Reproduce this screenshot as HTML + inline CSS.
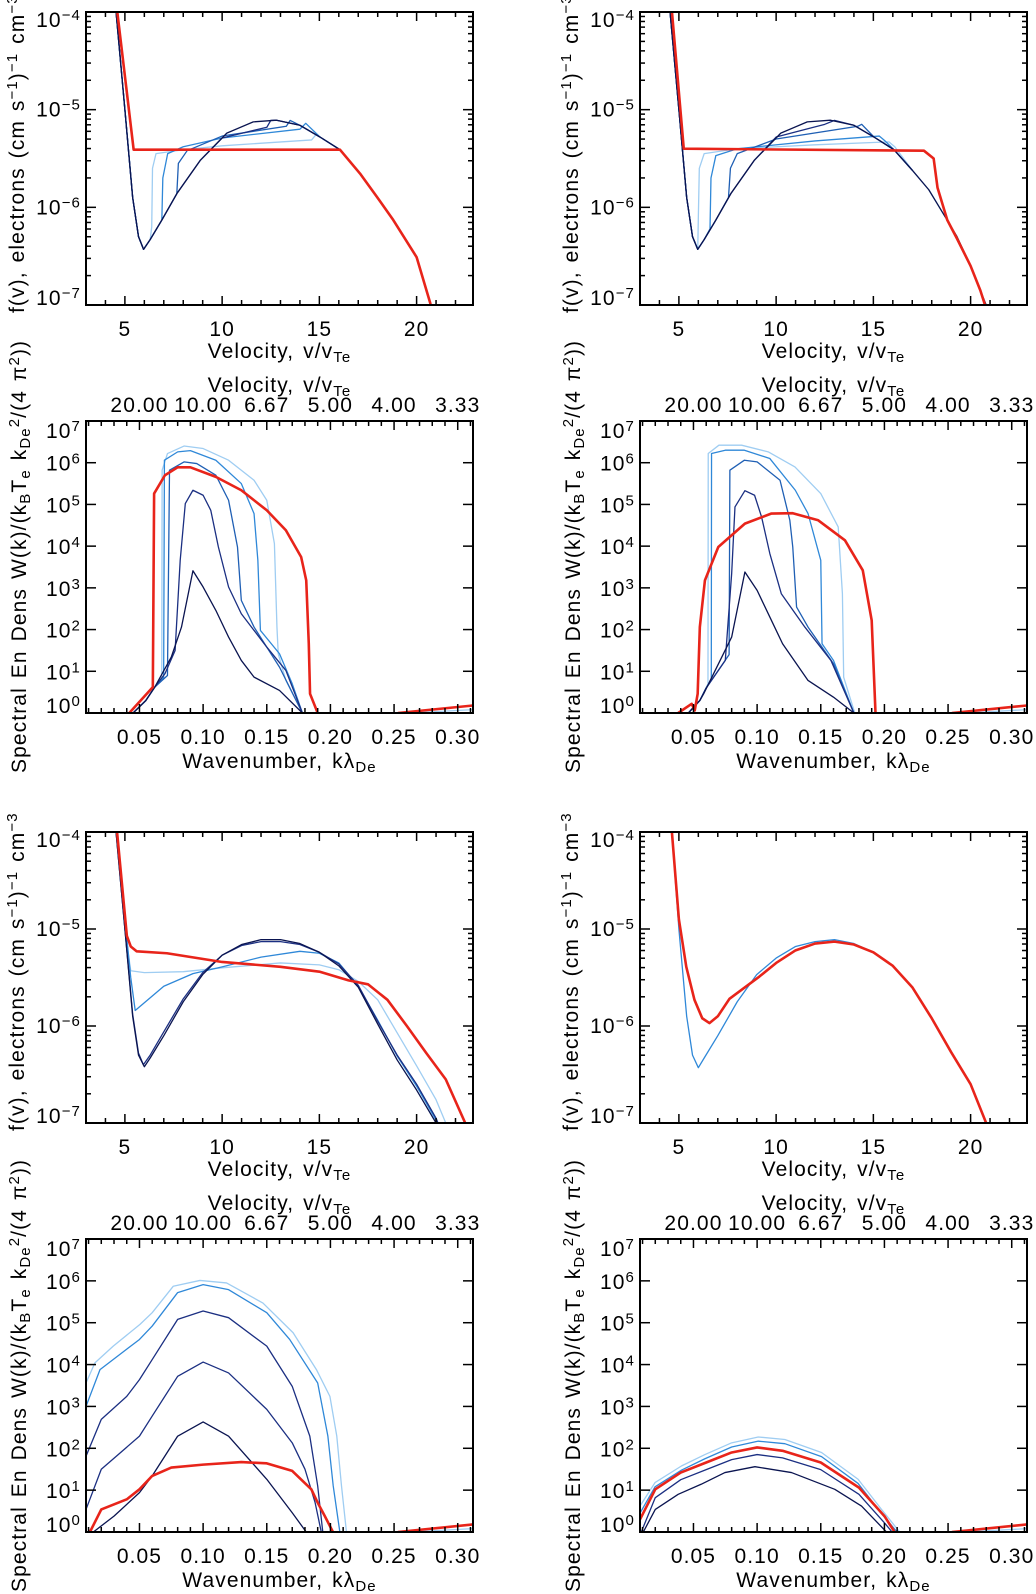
<!DOCTYPE html>
<html><head><meta charset="utf-8">
<style>
html,body{margin:0;padding:0;background:#fff;}
svg{display:block;}
text{font-family:"Liberation Sans",sans-serif;fill:#000;letter-spacing:1.1px;word-spacing:2px;}
</style></head>
<body>
<svg id="fig" width="1036" height="1594" viewBox="0 0 1036 1594" xmlns="http://www.w3.org/2000/svg"></svg>
<script>
// ---------- data: velocity panels, points are [v/vTe, log10 f(v)] ----------
const p1_c0 = [[4.5,-3.9],[5.0,-5.0],[5.4,-5.9],[5.7,-6.3],[5.96,-6.43],[6.3,-6.33],[6.9,-6.13],[7.67,-5.86],[8.87,-5.52],[10.24,-5.24],[11.6,-5.125],[12.8,-5.108],[14,-5.16],[15.03,-5.28],[16.06,-5.41],[17.09,-5.654],[17.95,-5.89],[18.8,-6.13],[20,-6.51],[20.7,-6.98],[20.85,-7.1]];
const p1_c1 = [[4.5,-3.9],[5.0,-5.0],[5.4,-5.9],[5.7,-6.3],[5.96,-6.43],[6.3,-6.33],[6.9,-6.13],[7.67,-5.86],[8.87,-5.52],[10,-5.29],[12.3,-5.18],[12.5,-5.11],[12.8,-5.108],[14,-5.16],[15.03,-5.28],[16.06,-5.41],[17.09,-5.654]];
const p1_c2 = [[4.5,-3.9],[5.0,-5.0],[5.4,-5.9],[5.7,-6.3],[5.96,-6.43],[6.3,-6.33],[6.9,-6.13],[7.67,-5.86],[7.75,-5.55],[8.2,-5.42],[10,-5.27],[13.3,-5.17],[13.5,-5.11],[14,-5.16],[15.03,-5.28],[16.06,-5.41],[17.09,-5.654]];
const p1_c3 = [[4.5,-3.9],[5.0,-5.0],[5.4,-5.9],[5.7,-6.3],[5.96,-6.43],[6.3,-6.33],[6.9,-6.13],[6.95,-5.7],[7.2,-5.45],[8,-5.38],[10,-5.29],[14.0,-5.20],[14.3,-5.14],[15.03,-5.28],[16.06,-5.41],[17.09,-5.654]];
const p1_c4 = [[4.5,-3.9],[5.0,-5.0],[5.4,-5.9],[5.7,-6.3],[5.96,-6.43],[6.3,-6.33],[6.38,-6.2],[6.42,-5.6],[6.6,-5.45],[8,-5.41],[10,-5.37],[14.6,-5.31],[14.85,-5.25],[15.03,-5.28],[16.06,-5.41],[17.09,-5.654]];
const p1_red = [[4.55,-3.9],[5.45,-5.41],[16.06,-5.41],[17.09,-5.654],[17.95,-5.89],[18.8,-6.13],[20,-6.51],[20.7,-6.98],[20.85,-7.1]];

const p2_c0 = [[4.5,-3.9],[5.0,-5.0],[5.4,-5.9],[5.7,-6.3],[5.97,-6.43],[6.3,-6.33],[6.9,-6.13],[7.67,-5.86],[8.87,-5.52],[10.24,-5.24],[11.6,-5.125],[12.8,-5.108],[14,-5.16],[15.03,-5.28],[16.06,-5.41],[17.0,-5.62],[17.85,-5.82],[18.7,-6.1],[19.3,-6.3],[20,-6.6],[20.5,-6.85],[20.9,-7.05]];
const p2_c1 = [[4.5,-3.9],[5.0,-5.0],[5.4,-5.9],[5.7,-6.3],[5.97,-6.43],[6.3,-6.33],[6.9,-6.13],[7.67,-5.86],[8.87,-5.52],[10,-5.28],[12.5,-5.15],[13,-5.11],[14,-5.16],[15.03,-5.28],[16.06,-5.41],[17.0,-5.62]];
const p2_c2 = [[4.5,-3.9],[5.0,-5.0],[5.4,-5.9],[5.7,-6.3],[5.97,-6.43],[6.3,-6.33],[6.9,-6.13],[7.55,-5.9],[7.65,-5.6],[8,-5.45],[10,-5.3],[14.2,-5.17],[14.4,-5.15],[15.03,-5.28],[16.06,-5.41],[17.0,-5.62]];
const p2_c3 = [[4.5,-3.9],[5.0,-5.0],[5.4,-5.9],[5.7,-6.3],[5.97,-6.43],[6.3,-6.33],[6.6,-6.22],[6.65,-5.7],[6.9,-5.47],[8,-5.40],[12,-5.32],[15.3,-5.27],[15.6,-5.32],[16.06,-5.41],[17.0,-5.62]];
const p2_c4 = [[4.5,-3.9],[5.0,-5.0],[5.4,-5.9],[5.7,-6.3],[5.97,-6.43],[6.0,-6.1],[6.05,-5.6],[6.3,-5.45],[8,-5.40],[12,-5.36],[15.8,-5.33],[16.1,-5.38],[17.0,-5.62],[17.85,-5.82],[18.7,-6.1],[19.3,-6.3],[20,-6.6],[20.5,-6.85],[20.9,-7.05]];
const p2_red = [[4.6,-3.9],[5.25,-5.4],[17.6,-5.42],[18.1,-5.5],[18.3,-5.8],[18.8,-6.13],[19.3,-6.32],[20,-6.6],[20.5,-6.85],[20.9,-7.1]];

const p3_c0 = [[4.5,-3.9],[5.0,-5.0],[5.4,-5.9],[5.7,-6.3],[6.0,-6.42],[6.3,-6.33],[7,-6.1],[8,-5.75],[9,-5.47],[10,-5.27],[11,-5.16],[12,-5.11],[13,-5.11],[14,-5.15],[15,-5.24],[16,-5.38],[17,-5.6],[18,-5.98],[19,-6.35],[20,-6.66],[21,-7.0],[21.2,-7.1]];
const p3_c1 = [[4.5,-3.9],[5.0,-5.0],[5.4,-5.88],[5.7,-6.28],[5.95,-6.40],[6.3,-6.3],[7,-6.06],[8,-5.72],[9,-5.45],[10,-5.27],[11,-5.17],[12,-5.13],[13,-5.13],[14,-5.16],[15,-5.24],[16,-5.36],[17,-5.58],[18,-5.95],[19,-6.3],[20,-6.6],[21,-6.95],[21.2,-7.05]];
const p3_c3 = [[4.5,-3.9],[5.0,-4.9],[5.3,-5.5],[5.53,-5.84],[6,-5.76],[7,-5.59],[8.5,-5.46],[10,-5.39],[12,-5.29],[14,-5.23],[15,-5.25],[16,-5.35],[17,-5.59],[18,-5.94],[19,-6.31],[20,-6.62],[21,-6.97],[21.2,-7.05]];
const p3_c4 = [[4.5,-3.9],[5.0,-5.0],[5.3,-5.43],[6,-5.45],[8,-5.44],[10,-5.40],[13,-5.35],[15,-5.37],[16,-5.42],[17,-5.54],[18,-5.73],[19,-6.07],[20,-6.41],[21,-6.76],[21.5,-7.0],[21.6,-7.05]];
const p3_red = [[4.55,-3.9],[5.1,-5.07],[5.3,-5.18],[5.6,-5.23],[7.16,-5.25],[10,-5.34],[13,-5.39],[15,-5.44],[16.5,-5.53],[17.5,-5.57],[18.5,-5.73],[19.5,-6.0],[20.5,-6.28],[21.5,-6.55],[22.5,-7.0],[22.6,-7.05]];

const p4_c4 = [[4.6,-3.9],[5.0,-5.0],[5.4,-5.9],[5.7,-6.3],[6.0,-6.43],[6.3,-6.33],[7,-6.1],[8,-5.75],[9,-5.47],[10,-5.3],[11,-5.18],[12,-5.13],[13,-5.11],[14,-5.15],[15,-5.24],[16,-5.38],[17,-5.6],[18,-5.92],[19,-6.27],[20,-6.6],[20.9,-7.05]];
const p4_red = [[4.6,-3.9],[5.0,-4.9],[5.38,-5.39],[5.8,-5.73],[6.2,-5.92],[6.57,-5.97],[7.0,-5.9],[7.6,-5.72],[9.14,-5.49],[10,-5.35],[11,-5.22],[12,-5.15],[13,-5.13],[14,-5.16],[15,-5.24],[16,-5.38],[17,-5.6],[18,-5.92],[19,-6.27],[20,-6.6],[20.9,-7.05]];

// ---------- data: spectral panels, points are [k lambda_De, log10 W] ----------
const p5_c0 = [[0.045,0],[0.055,0.3],[0.062,0.62],[0.075,1.34],[0.083,2.06],[0.092,3.41],[0.1,3.02],[0.11,2.46],[0.12,1.82],[0.13,1.26],[0.14,0.86],[0.16,0.54],[0.178,0]];
const p5_c1 = [[0.045,0],[0.055,0.3],[0.062,0.62],[0.07,0.94],[0.078,1.5],[0.082,3.66],[0.086,5.02],[0.092,5.34],[0.1,5.22],[0.106,4.86],[0.112,3.98],[0.12,3.02],[0.13,2.38],[0.15,1.58],[0.165,1.02],[0.178,0]];
const p5_c2 = [[0.045,0],[0.055,0.3],[0.062,0.62],[0.072,0.9],[0.0736,5.82],[0.085,6.02],[0.095,5.98],[0.11,5.7],[0.12,5.1],[0.127,3.98],[0.13,2.7],[0.14,2.06],[0.16,1.1],[0.178,0]];
const p5_c3 = [[0.045,0],[0.055,0.3],[0.062,0.62],[0.069,0.85],[0.0696,6.06],[0.08,6.26],[0.09,6.29],[0.11,6.06],[0.13,5.5],[0.14,4.78],[0.143,3.66],[0.145,1.98],[0.16,1.42],[0.17,0.7],[0.178,0]];
const p5_c4 = [[0.045,0],[0.055,0.3],[0.062,0.62],[0.0675,0.8],[0.0678,5.82],[0.072,6.22],[0.085,6.4],[0.10,6.34],[0.12,6.06],[0.14,5.58],[0.15,5.1],[0.156,4.06],[0.158,2.06],[0.159,1.42],[0.165,0.78],[0.178,0]];
const p5_red = [[0.042,0],[0.0605,0.62],[0.0615,5.26],[0.07,5.70],[0.08,5.89],[0.09,5.89],[0.11,5.66],[0.13,5.34],[0.15,4.86],[0.165,4.38],[0.177,3.74],[0.181,3.18],[0.183,1.66],[0.184,0.46],[0.19,0]];

const p6_c0 = [[0.046,0],[0.055,0.3],[0.058,0.46],[0.08,1.82],[0.0904,3.38],[0.1,2.94],[0.11,2.3],[0.12,1.66],[0.14,0.78],[0.16,0.38],[0.176,0]];
const p6_c1 = [[0.046,0],[0.055,0.3],[0.06,0.6],[0.075,1.26],[0.08,3.34],[0.0826,4.94],[0.0904,5.33],[0.098,5.22],[0.1035,4.70],[0.11,3.82],[0.119,2.86],[0.1375,2.06],[0.158,1.26],[0.176,0]];
const p6_c2 = [[0.046,0],[0.055,0.3],[0.06,0.6],[0.078,1.4],[0.0786,5.82],[0.09,6.06],[0.1,6.02],[0.118,5.58],[0.1257,4.62],[0.128,3.98],[0.131,2.54],[0.14,2.06],[0.16,1.18],[0.176,0]];
const p6_c3 = [[0.046,0],[0.055,0.3],[0.06,0.6],[0.064,0.8],[0.0642,6.22],[0.075,6.3],[0.09,6.3],[0.11,6.1],[0.13,5.34],[0.14,4.78],[0.15,3.66],[0.151,1.66],[0.16,1.26],[0.176,0]];
const p6_c4 = [[0.046,0],[0.055,0.3],[0.0614,0.7],[0.0616,6.22],[0.07,6.42],[0.0878,6.42],[0.1087,6.26],[0.1297,5.9],[0.150,5.26],[0.1637,4.46],[0.167,2.86],[0.168,0.86],[0.1767,0]];
const p6_red = [[0.038,0],[0.0486,0.22],[0.051,0.06],[0.0533,0.46],[0.055,2.06],[0.059,3.18],[0.0695,3.98],[0.0904,4.54],[0.111,4.78],[0.128,4.79],[0.148,4.62],[0.169,4.14],[0.183,3.42],[0.190,2.22],[0.193,0]];

const p7_c0 = [[0.0138,0],[0.03,0.38],[0.05,0.94],[0.06,1.34],[0.08,2.29],[0.1,2.63],[0.12,2.29],[0.15,1.26],[0.17,0.46],[0.181,0]];
const p7_c1 = [[0.008,0.54],[0.02,1.5],[0.05,2.29],[0.06,2.77],[0.08,3.72],[0.1,4.06],[0.12,3.8],[0.15,2.93],[0.17,2.13],[0.18,1.5],[0.188,0.7],[0.1928,0]];
const p7_c2 = [[0.008,1.81],[0.02,2.69],[0.04,3.24],[0.05,3.64],[0.06,4.12],[0.08,5.08],[0.1,5.28],[0.12,5.12],[0.15,4.44],[0.17,3.48],[0.1838,2.29],[0.190,1.1],[0.194,0]];
const p7_c3 = [[0.008,3.0],[0.019,3.88],[0.05,4.6],[0.06,4.92],[0.08,5.72],[0.1,5.91],[0.12,5.79],[0.15,5.24],[0.168,4.6],[0.19,3.56],[0.198,2.29],[0.2022,1.1],[0.2074,0]];
const p7_c4 = [[0.008,3.56],[0.015,4.04],[0.0294,4.44],[0.0504,4.96],[0.06,5.24],[0.0765,5.87],[0.0975,6.01],[0.1184,5.95],[0.147,5.47],[0.1707,4.76],[0.189,3.88],[0.1996,3.24],[0.205,2.29],[0.2087,1.10],[0.2126,0]];
const p7_red = [[0.0111,0],[0.02,0.54],[0.04,0.78],[0.05,1.02],[0.06,1.34],[0.075,1.54],[0.1,1.61],[0.13,1.67],[0.15,1.64],[0.17,1.46],[0.185,1.02],[0.19,0.70],[0.1956,0.38],[0.202,0]];

const p8_c0 = [[0.0106,0],[0.02,0.54],[0.038,0.9],[0.056,1.14],[0.0747,1.42],[0.0983,1.56],[0.127,1.42],[0.161,1.02],[0.182,0.62],[0.2016,0]];
const p8_c1 = [[0.009,0],[0.02,0.82],[0.04,1.25],[0.06,1.49],[0.08,1.73],[0.1,1.85],[0.12,1.77],[0.15,1.49],[0.18,0.9],[0.2,0.22],[0.206,0]];
const p8_c3 = [[0.008,0.45],[0.0198,1.08],[0.0407,1.48],[0.059,1.75],[0.08,2.03],[0.1009,2.17],[0.1218,2.11],[0.1506,1.8],[0.1793,1.16],[0.1977,0.44],[0.21,0]];
const p8_c4 = [[0.008,0.62],[0.0198,1.18],[0.0407,1.58],[0.059,1.85],[0.08,2.13],[0.1009,2.27],[0.1218,2.21],[0.1506,1.9],[0.1793,1.26],[0.1977,0.54],[0.212,0]];
const p8_red = [[0.008,0.3],[0.02,1.02],[0.04,1.42],[0.06,1.66],[0.08,1.9],[0.1,2.02],[0.12,1.94],[0.15,1.66],[0.18,1.06],[0.2,0.38],[0.208,0]];

const tail_red = [[0.253,0],[0.312,0.18]];
const tail_blue = [[0.262,0],[0.312,0.08]];

const velTicks = [5,10,15,20];
const velTickLabels = ["5","10","15","20"];
const fDecades = [-7,-6,-5,-4];
const kTicks = [0.05,0.10,0.15,0.20,0.25,0.30];
const kTickLabels = ["0.05","0.10","0.15","0.20","0.25","0.30"];
const kTopLabels = ["20.00","10.00","6.67","5.00","4.00","3.33"];
const wDecades = [0,1,2,3,4,5,6,7];

// ---------- drawing ----------
const NS = "http://www.w3.org/2000/svg";
const fig = document.getElementById("fig");
const COL = {c0:"#0a1450",c1:"#1b2f82",c2:"#1f5fb4",c3:"#2f88d8",c4:"#9fcdf2",red:"#e8241a"};
const FS = 21, SFS = 15;

function mk(tag, parent, attrs){
  const e = document.createElementNS(NS, tag);
  for (const k in attrs) e.setAttribute(k, attrs[k]);
  parent.appendChild(e);
  return e;
}
function richText(parent, x, y, parts, opts){
  const t = mk("text", parent, {x:x, y:y, "font-size":FS});
  if (opts && opts.anchor) t.setAttribute("text-anchor", opts.anchor);
  if (opts && opts.transform) { t.setAttribute("transform", opts.transform); t.setAttribute("x",0); t.setAttribute("y",0); }
  parts.forEach(p=>{
    const s = document.createElementNS(NS,"tspan");
    if (typeof p === "string") { s.textContent = p; }
    else {
      s.textContent = p.t;
      s.setAttribute("font-size", SFS);
      s.setAttribute("baseline-shift", p.sup ? "45%" : "-25%");
    }
    t.appendChild(s);
  });
  return t;
}

function panel(name, box, kind, series){
  const g = mk("g", fig, {});
  
  
  let xmin, xmax, ymin, ymax;
  if (kind === "vel"){ xmin=3.0; xmax=22.9; ymin=-7; ymax=-4; }
  else { xmin=0.008; xmax=0.312; ymin=0; ymax=7; }
  const X = v => box.x + (v - xmin)/(xmax - xmin)*box.w;
  const Y = v => box.y + box.h - (v - ymin)/(ymax - ymin)*box.h;
  const cid = "clip-" + name;
  const cp = mk("clipPath", g, {id:cid});
  mk("rect", cp, {x:box.x, y:box.y, width:box.w, height:box.h});
  const sg = mk("g", g, {"clip-path":"url(#"+cid+")"});
  series.forEach(s=>{
    const d = s.data.map((p,i)=>(i?"L":"M")+X(p[0]).toFixed(2)+","+Y(p[1]).toFixed(2)).join("");
    const path = mk("path", sg, {d:d, fill:"none", stroke:COL[s.c], "stroke-width": s.c==="red"?2.6:1.3, "stroke-linejoin":"round"});
    
    
  });
  const fr = mk("rect", g, {x:box.x, y:box.y, width:box.w, height:box.h, fill:"none", stroke:"#000", "stroke-width":2});
  
  
  const tk = mk("g", g, {stroke:"#000", "stroke-width":1.5});
  
  
  const tick = (x1,y1,x2,y2)=>mk("line", tk, {x1:x1,y1:y1,x2:x2,y2:y2});
  const bot = box.y+box.h, top = box.y, left = box.x, right = box.x+box.w;
  if (kind === "vel"){
    for (let v=4; v<=22; v++){
      const major = v%5===0, L = major?9:5, x=X(v);
      tick(x,bot,x,bot-L); tick(x,top,x,top+L);
    }
    velTicks.forEach((v,i)=>{
      const t = mk("text", g, {x:X(v), y:bot+31, "font-size":FS, "text-anchor":"middle"});
      t.textContent = velTickLabels[i];
      
      
    });
    for (let d=-7; d<-4; d++){
      for (let m=2; m<=9; m++){ const y=Y(d+Math.log10(m)); tick(left,y,left+5,y); tick(right,y,right-5,y); }
    }
    fDecades.forEach(d=>{
      const y=Y(d); tick(left,y,left+10,y); tick(right,y,right-10,y);
      const off = d===-4?15:(d===-7?0:7);
      const t = richText(g, left-5, y+off, ["10",{t:"\u2212"+(-d),sup:true}], {anchor:"end"});
      
      
    });
    const xt = richText(g, box.x+box.w/2, bot+53, ["Velocity,  v/v",{t:"Te",sup:false}], {anchor:"middle"});
    
    
    const yt = richText(g, 0, 0, ["f(v),  electrons  (cm  s",{t:"\u22121",sup:true},")",{t:"\u22121",sup:true},"  cm",{t:"\u22123",sup:true}], {transform:"translate("+(box.x-62)+","+(box.y+box.h+8)+") rotate(-90)"});
    
    
  } else {
    for (let i=1; i<=31; i++){
      const k=i/100; if (k<xmin||k>xmax) continue;
      const major = i%5===0, L = major?9:5, x=X(k);
      tick(x,bot,x,bot-L); tick(x,top,x,top+L);
    }
    kTicks.forEach((k,i)=>{
      const t = mk("text", g, {x:X(k), y:bot+31, "font-size":FS, "text-anchor":"middle"});
      t.textContent = kTickLabels[i];
      
      
      const t2 = mk("text", g, {x:X(k), y:top-9, "font-size":FS, "text-anchor":"middle"});
      t2.textContent = kTopLabels[i];
      
      
    });
    wDecades.forEach(d=>{
      const y=Y(d); tick(left,y,left+10,y); tick(right,y,right-10,y);
      const off = d===7?17:(d===0?0:8);
      const t = richText(g, left-5, y+off, ["10",{t:String(d),sup:true}], {anchor:"end"});
      
      
    });
    const xt = richText(g, box.x+box.w/2, bot+55, ["Wavenumber,  k\u03bb",{t:"De",sup:false}], {anchor:"middle"});
    
    
    const tt = richText(g, box.x+box.w/2, top-29, ["Velocity,  v/v",{t:"Te",sup:false}], {anchor:"middle"});
    
    
    const yt = richText(g, 0, 0, ["Spectral  En  Dens  W(k)/(k",{t:"B",sup:false},"T",{t:"e",sup:false},"  k",{t:"De",sup:false},{t:"2",sup:true},"/(4  \u03c0",{t:"2",sup:true},"))"], {transform:"translate("+(box.x-60)+","+(box.y+box.h+60)+") rotate(-90)"});
    
    
  }
}

const W = 387;
panel("velocity-panel-a", {x:86,y:12,w:W,h:293}, "vel", [
  {name:"curve-t4",c:"c4",data:p1_c4},{name:"curve-t3",c:"c3",data:p1_c3},{name:"curve-t2",c:"c2",data:p1_c2},
  {name:"curve-t1",c:"c1",data:p1_c1},{name:"curve-t0",c:"c0",data:p1_c0},{name:"curve-final",c:"red",data:p1_red}]);
panel("velocity-panel-b", {x:640,y:12,w:W,h:293}, "vel", [
  {name:"curve-t4",c:"c4",data:p2_c4},{name:"curve-t3",c:"c3",data:p2_c3},{name:"curve-t2",c:"c2",data:p2_c2},
  {name:"curve-t1",c:"c1",data:p2_c1},{name:"curve-t0",c:"c0",data:p2_c0},{name:"curve-final",c:"red",data:p2_red}]);
panel("spectrum-panel-a", {x:86,y:421,w:W,h:292}, "spec", [
  {name:"tail-blue",c:"c4",data:tail_blue},
  {name:"curve-t4",c:"c4",data:p5_c4},{name:"curve-t3",c:"c3",data:p5_c3},{name:"curve-t2",c:"c2",data:p5_c2},
  {name:"curve-t1",c:"c1",data:p5_c1},{name:"curve-t0",c:"c0",data:p5_c0},{name:"curve-final",c:"red",data:p5_red},{name:"tail-red",c:"red",data:tail_red}]);
panel("spectrum-panel-b", {x:640,y:421,w:W,h:292}, "spec", [
  {name:"tail-blue",c:"c4",data:tail_blue},
  {name:"curve-t4",c:"c4",data:p6_c4},{name:"curve-t3",c:"c3",data:p6_c3},{name:"curve-t2",c:"c2",data:p6_c2},
  {name:"curve-t1",c:"c1",data:p6_c1},{name:"curve-t0",c:"c0",data:p6_c0},{name:"curve-final",c:"red",data:p6_red},{name:"tail-red",c:"red",data:tail_red}]);
panel("velocity-panel-c", {x:86,y:832,w:W,h:291}, "vel", [
  {name:"curve-t4",c:"c4",data:p3_c4},{name:"curve-t3",c:"c3",data:p3_c3},
  {name:"curve-t1",c:"c1",data:p3_c1},{name:"curve-t0",c:"c0",data:p3_c0},{name:"curve-final",c:"red",data:p3_red}]);
panel("velocity-panel-d", {x:640,y:832,w:W,h:291}, "vel", [
  {name:"curve-t4",c:"c3",data:p4_c4},{name:"curve-final",c:"red",data:p4_red}]);
panel("spectrum-panel-c", {x:86,y:1239,w:W,h:293}, "spec", [
  {name:"tail-blue",c:"c4",data:tail_blue},
  {name:"curve-t4",c:"c4",data:p7_c4},{name:"curve-t3",c:"c3",data:p7_c3},{name:"curve-t2",c:"c1",data:p7_c2},
  {name:"curve-t1",c:"c1",data:p7_c1},{name:"curve-t0",c:"c0",data:p7_c0},{name:"curve-final",c:"red",data:p7_red},{name:"tail-red",c:"red",data:tail_red}]);
panel("spectrum-panel-d", {x:640,y:1239,w:W,h:293}, "spec", [
  {name:"tail-blue",c:"c4",data:tail_blue},
  {name:"curve-t4",c:"c4",data:p8_c4},{name:"curve-t3",c:"c3",data:p8_c3},
  {name:"curve-t1",c:"c1",data:p8_c1},{name:"curve-t0",c:"c0",data:p8_c0},{name:"curve-final",c:"red",data:p8_red},{name:"tail-red",c:"red",data:tail_red}]);
</script>
</body></html>
